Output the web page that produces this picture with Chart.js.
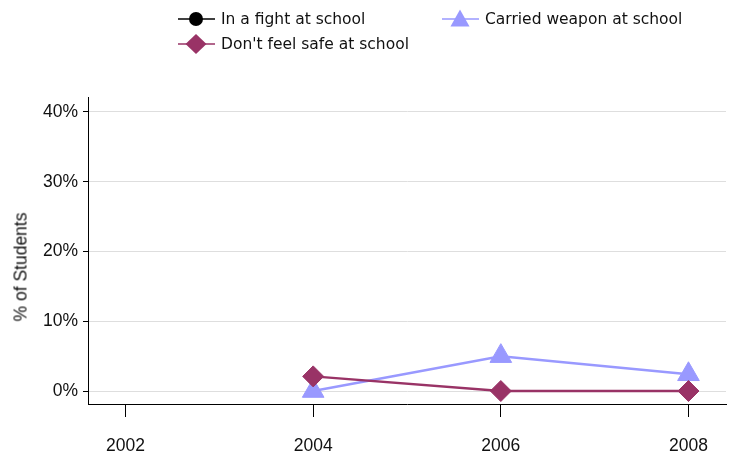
<!DOCTYPE html>
<html>
<head>
<meta charset="utf-8">
<script src="https://cdn.jsdelivr.net/npm/chart.js@4"></script>
<style>
    body { margin: 0; background: #fff; }
    #wrap { position: relative; width: 732px; height: 454px; }
    #legend { position: absolute; left: 0; top: 0; font-family: "DejaVu Sans", sans-serif; font-size: 15.5px; color: #111; }
    .item { position: absolute; display: flex; align-items: center; height: 20px; white-space: nowrap; }
    .item svg { margin-right: 6px; }
    #ytitle {
        position: absolute; left: 21px; top: 267px;
        transform: translate(-50%, -50%) rotate(-90deg);
        font-family: "Liberation Sans", Arial, sans-serif; font-size: 17.5px; color: #111; white-space: nowrap;
    }
</style>
</head>
<body>
<div id="wrap">
    <canvas id="chart" width="732" height="454"></canvas>
    <div id="legend"></div>
    <div id="ytitle">% of Students</div>
</div>
<script>
    const years = [2002, 2004, 2006, 2008];
    const fightPct = [null, null, null, null];
    const safePct = [null, 2.1, 0, 0];
    const weaponPct = [null, 0, 5, 2.4];
    const yTicks = [0, 10, 20, 30, 40];

    const seriesNames = ["In a fight at school", "Don't feel safe at school", "Carried weapon at school"];
    const seriesColors = ["#000000", "#993366", "#9999ff"];
    const seriesMarkers = ["circle", "rectRot", "triangle"];
    const seriesRadius = [7, 10.5, 12.5];

    const axisFont = { family: "Liberation Sans, Arial, sans-serif", size: 17.5 };

    function toPoints(values) {
        return years.map(function (year, i) {
            return { x: year, y: values[i] };
        });
    }

    const datasets = [fightPct, safePct, weaponPct].map(function (values, i) {
        return {
            label: seriesNames[i],
            data: toPoints(values),
            borderColor: seriesColors[i],
            backgroundColor: seriesColors[i],
            borderWidth: 2.5,
            pointStyle: seriesMarkers[i],
            pointRadius: seriesRadius[i],
            pointBorderWidth: 1,
            spanGaps: false,
            tension: 0
        };
    });

    new Chart(document.getElementById("chart").getContext("2d"), {
        type: "line",
        data: { datasets: datasets },
        options: {
            responsive: false,
            animation: false,
            layout: { autoPadding: false, padding: { top: 97, right: 6, left: 0, bottom: 0 } },
            plugins: {
                legend: { display: false },
                tooltip: { enabled: false }
            },
            scales: {
                x: {
                    type: "linear",
                    min: 2001.6,
                    max: 2008.4,
                    afterBuildTicks: function (scale) {
                        scale.ticks = years.map(function (v) { return { value: v }; });
                    },
                    afterFit: function (scale) {
                        scale.height = 50;
                        scale.paddingLeft = 0;
                        scale.paddingRight = 0;
                    },
                    grid: { drawOnChartArea: false, drawTicks: true, tickLength: 13, tickColor: "#000", tickWidth: 1 },
                    border: { color: "#000", width: 1 },
                    ticks: {
                        color: "#111",
                        font: axisFont,
                        padding: 19,
                        maxRotation: 0,
                        autoSkip: false,
                        callback: function (v) { return String(v); }
                    }
                },
                y: {
                    min: -1.86,
                    max: 42.15,
                    afterBuildTicks: function (scale) {
                        scale.ticks = yTicks.map(function (v) { return { value: v }; });
                    },
                    afterFit: function (scale) {
                        scale.width = 88;
                        scale.paddingTop = 0;
                        scale.paddingBottom = 0;
                    },
                    grid: { color: "#dedede", lineWidth: 1, tickColor: "#000", tickLength: 5 },
                    border: { color: "#000", width: 1 },
                    ticks: {
                        color: "#111",
                        font: axisFont,
                        padding: 5,
                        callback: function (v) { return v + "%"; }
                    }
                }
            }
        }
    });

    // legend laid out like the original: two columns, weapon in the right one
    const legendSlots = [[178, 9], [178, 34], [442, 9]];
    const legend = document.getElementById("legend");

    function markerSvg(i) {
        const c = seriesColors[i];
        let shape = "";
        if (seriesMarkers[i] === "circle") {
            shape = '<circle cx="18" cy="10" r="7" fill="' + c + '"/>';
        } else if (seriesMarkers[i] === "rectRot") {
            shape = '<polygon points="18,0 28.5,10 18,20 7.5,10" fill="' + c + '"/>';
        } else {
            shape = '<polygon points="18,0.5 27.5,17.5 8.5,17.5" fill="' + c + '"/>';
        }
        return '<svg width="37" height="20"><line x1="0" y1="10" x2="37" y2="10" stroke="' + c +
            '" stroke-width="1.5"/>' + shape + "</svg>";
    }

    seriesNames.forEach(function (name, i) {
        const item = document.createElement("div");
        item.className = "item";
        item.style.left = legendSlots[i][0] + "px";
        item.style.top = legendSlots[i][1] + "px";
        item.innerHTML = markerSvg(i) + "<span>" + name + "</span>";
        legend.appendChild(item);
    });
</script>
</body>
</html>
